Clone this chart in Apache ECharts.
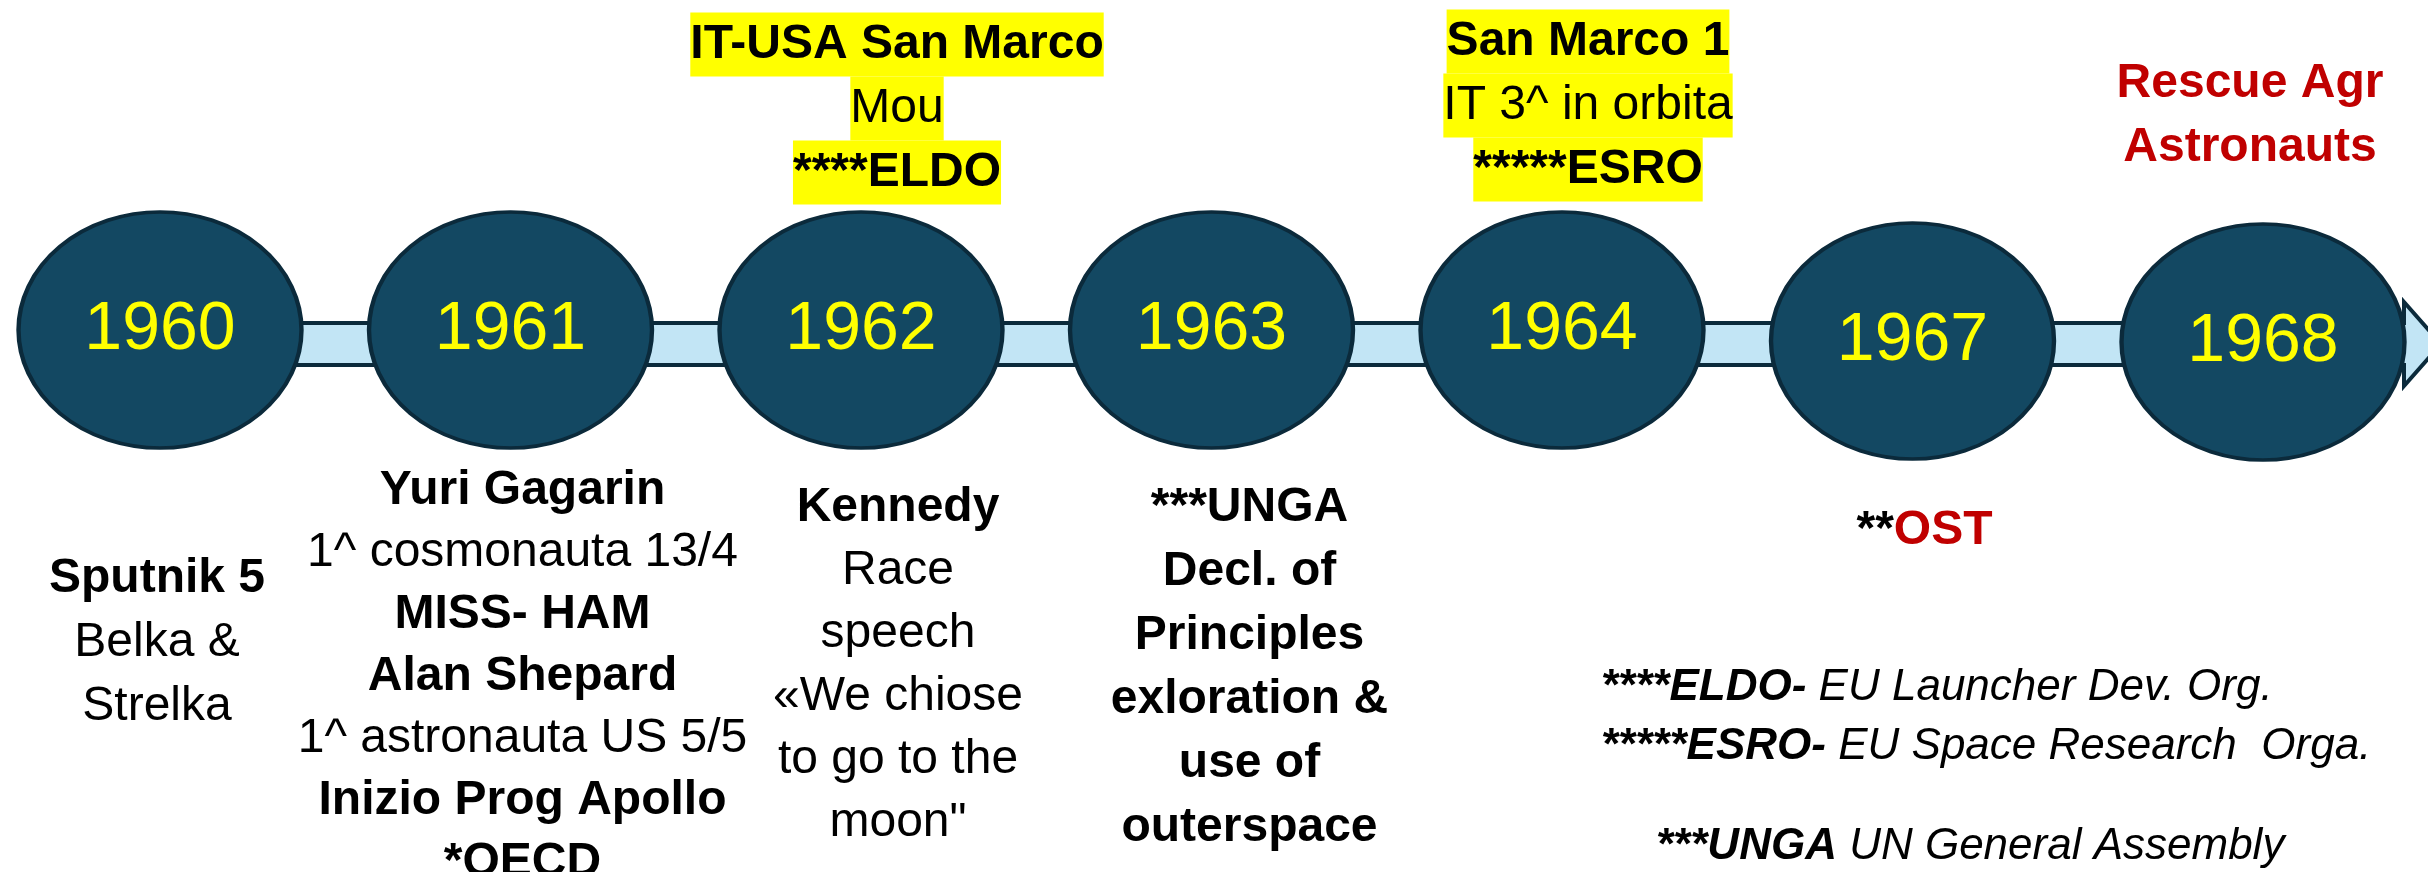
<!DOCTYPE html>
<html>
<head>
<meta charset="utf-8">
<title>Timeline 1960 - 1968</title>
<script src="https://cdn.jsdelivr.net/npm/echarts@6.0.0/dist/echarts.min.js"></script>
<style>
  html, body { margin: 0; padding: 0; background: #fff; }
  #chart { width: 2428px; height: 872px; }
</style>
</head>
<body>
<div id="chart"></div>
<script>
// timeline categories
const years = ['1960', '1961', '1962', '1963', '1964', '1967', '1968']

// text above each ellipse (one rich line per entry)
const aboveText = [
  [],
  [],
  ['{hb|IT-USA San Marco}', '{hr|Mou}', '{hb|****ELDO}'],
  [],
  ['{hb|San Marco 1}', '{hr|IT 3^ in orbita}', '{hb|*****ESRO}'],
  [],
  ['{red|Rescue Agr}', '{red|Astronauts}']
]

// text below each ellipse
const belowText = [
  ['{b|Sputnik 5}', '{r|Belka &}', '{r|Strelka}'],
  ['{b|Yuri Gagarin}', '{r|1^ cosmonauta 13/4}', '{b|MISS- HAM}', '{b|Alan Shepard}', '{r|1^ astronauta US 5/5}', '{b|Inizio Prog Apollo}', '{b|*OECD}'],
  ['{b|Kennedy}', '{r|Race}', '{r|speech}', '{r|«We chiose}', '{r|to go to the}', '{r|moon"}'],
  ['{b|***UNGA}', '{b|Decl. of}', '{b|Principles}', '{b|exloration &}', '{b|use of}', '{b|outerspace}'],
  [],
  ['{b|**}{red|OST}'],
  []
]

// footnotes
const notes = [
  '{b|****ELDO-}{i| EU Launcher Dev. Org.}',
  '{b|*****ESRO-}{i| EU Space Research  Orga.}',
  '{b|***UNGA}{i| UN General Assembly}'
]

// layout only (pixels)
const ellipseDrop = [0, 0, 0, 0, 0, 11, 12]
const aboveDist = [0, 0, 125, 0, 128, 0, 150]
const aboveShift = [0, 0, 36, 0, 26, 0, -13]
const belowDist = [216, 129, 146, 145, 0, 168, 0]
const belowShift = [-3, 12, 37, 38, 0, 12, 0]
const belowLineHeight = [64, 62, 63, 64, 64, 64, 64]

const FONT = 'Liberation Sans'

function richStyles (lh) {
  return {
    b: { fontFamily: FONT, fontSize: 48, fontWeight: 'bold', color: '#000', lineHeight: lh },
    r: { fontFamily: FONT, fontSize: 48, fontWeight: 'normal', color: '#000', lineHeight: lh },
    hb: { fontFamily: FONT, fontSize: 48, fontWeight: 'bold', color: '#000', backgroundColor: '#ffff00', height: 64, lineHeight: 64 },
    hr: { fontFamily: FONT, fontSize: 48, fontWeight: 'normal', color: '#000', backgroundColor: '#ffff00', height: 64, lineHeight: 64 },
    red: { fontFamily: FONT, fontSize: 48, fontWeight: 'bold', color: '#c00000', lineHeight: lh }
  }
}

const noteRich = {
  b: { fontFamily: FONT, fontSize: 44, fontWeight: 'bold', fontStyle: 'italic', color: '#000', lineHeight: 59 },
  i: { fontFamily: FONT, fontSize: 44, fontWeight: 'normal', fontStyle: 'italic', color: '#000', lineHeight: 59 }
}

const chart = echarts.init(document.getElementById('chart'))

chart.setOption({
  backgroundColor: '#fff',
  animation: false,
  title: [
    {
      text: notes.slice(0, 2).join('\n'),
      left: 1601,
      top: 658,
      padding: 0,
      textStyle: { rich: noteRich, lineHeight: 59, fontWeight: 'normal' }
    },
    {
      text: notes[2],
      left: 1656,
      top: 817,
      padding: 0,
      textStyle: { rich: noteRich, lineHeight: 59, fontWeight: 'normal' }
    }
  ],
  grid: { left: 160, right: 165, top: 230, height: 200 },
  xAxis: {
    type: 'category',
    data: years,
    boundaryGap: false,
    show: false
  },
  yAxis: {
    type: 'value',
    min: -1,
    max: 1,
    show: false
  },
  series: [
    {
      // arrow band behind the ellipses
      type: 'custom',
      z: 1,
      silent: true,
      data: [[0, 0]],
      renderItem: function (params, api) {
        const start = api.coord([0, 0])
        const end = api.coord([years.length - 1, 0])
        const cy = start[1] + 14
        const x0 = start[0]
        const base = end[0] + 141
        const tip = base + 37
        return {
          type: 'polygon',
          shape: {
            points: [
              [x0, cy - 21], [base, cy - 21], [base, cy - 42], [tip, cy],
              [base, cy + 42], [base, cy + 21], [x0, cy + 21]
            ]
          },
          style: { fill: '#c2e5f5', stroke: '#0b2a3b', lineWidth: 4 }
        }
      }
    },
    {
      type: 'scatter',
      z: 2,
      silent: true,
      symbol: 'circle',
      symbolSize: [283, 236],
      itemStyle: { color: '#134862', borderColor: '#0b2a3b', borderWidth: 4, opacity: 1 },
      label: {
        show: true,
        position: 'inside',
        fontFamily: FONT,
        fontSize: 68,
        color: '#ffff00',
        formatter: p => p.value[0]
      },
      data: years.map((y, i) => ({ value: [y, 0], symbolOffset: [0, ellipseDrop[i]] }))
    },
    {
      // labels above
      type: 'scatter',
      z: 3,
      silent: true,
      symbolSize: 1,
      itemStyle: { color: 'rgba(0,0,0,0)', opacity: 1 },
      data: years.map((y, i) => ({
        value: [y, 0],
        label: {
          show: aboveText[i].length > 0,
          position: 'top',
          distance: aboveDist[i],
          offset: [aboveShift[i], 0],
          align: 'center',
          formatter: aboveText[i].join('\n'),
          rich: richStyles(64)
        }
      }))
    },
    {
      // labels below
      type: 'scatter',
      z: 3,
      silent: true,
      symbolSize: 1,
      itemStyle: { color: 'rgba(0,0,0,0)', opacity: 1 },
      data: years.map((y, i) => ({
        value: [y, 0],
        label: {
          show: belowText[i].length > 0,
          position: 'bottom',
          distance: belowDist[i],
          offset: [belowShift[i], 0],
          align: 'center',
          formatter: belowText[i].join('\n'),
          rich: richStyles(belowLineHeight[i])
        }
      }))
    }
  ]
})
</script>
</body>
</html>
